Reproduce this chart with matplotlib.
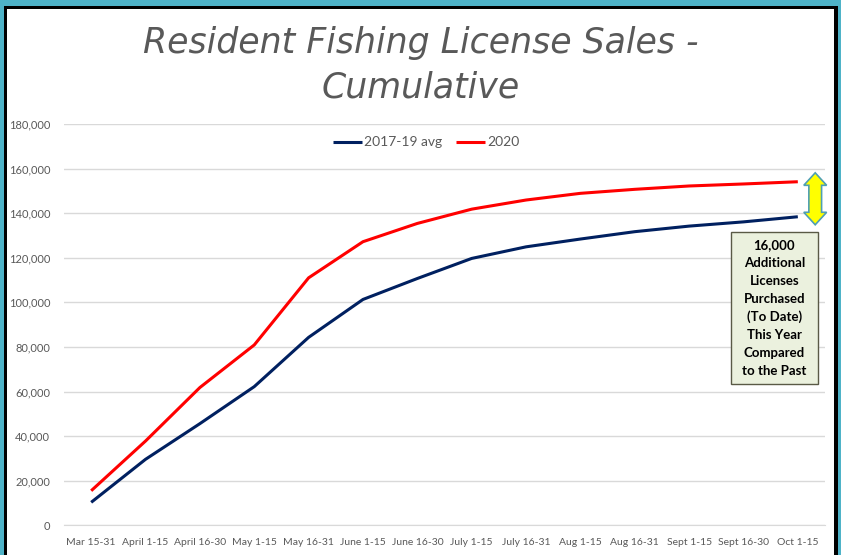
import numpy as np
import matplotlib
matplotlib.use('Agg')
from matplotlib import pyplot as plt
from matplotlib.patches import Polygon, Rectangle

## data
periods = ['Mar 15-31', 'April 1-15', 'April 16-30', 'May 1-15', 'May 16-31',
           'June 1-15', 'June 16-30', 'July 1-15', 'July 16-31', 'Aug 1-15',
           'Aug 16-31', 'Sept 1-15', 'Sept 16-30', 'Oct 1-15']
avg_2017_19 = [10300, 29600, 45600, 62200, 84300, 101300, 110700, 119700,
               124900, 128400, 131700, 134200, 136100, 138400]
sales_2020 = [15500, 37800, 61800, 80900, 111000, 127200, 135400, 141800,
              145900, 148900, 150700, 152200, 153100, 154100]
yticks = np.arange(0, 180001, 20000)
note = '16,000\nAdditional\nLicenses\nPurchased\n(To Date)\nThis Year\nCompared\nto the Past'

W, H = 841, 555
fig = plt.figure(figsize=(W/100, H/100), dpi=100)
fig.patch.set_facecolor('white')

## teal outer border + black inner frame
teal = '#4EB3C8'
fig.patches.append(Rectangle((0, 1 - 6/H), 1, 6/H, transform=fig.transFigure, facecolor=teal, lw=0))
fig.patches.append(Rectangle((0, 0), 4/W, 1, transform=fig.transFigure, facecolor=teal, lw=0))
fig.patches.append(Rectangle((1 - 3/W, 0), 3/W, 1, transform=fig.transFigure, facecolor=teal, lw=0))
fig.patches.append(Rectangle((4/W, 0), 3/W, 1 - 6/H, transform=fig.transFigure, facecolor='black', lw=0))
fig.patches.append(Rectangle((4/W, 1 - 9/H), 1 - 7/W, 3/H, transform=fig.transFigure, facecolor='black', lw=0))
fig.patches.append(Rectangle((1 - 7/W, 0), 4/W, 1 - 6/H, transform=fig.transFigure, facecolor='black', lw=0))

ax = fig.add_axes([64/W, 1 - 525.3/H, (825 - 64)/W, (525.3 - 124)/H])
x = np.arange(len(periods))
ax.plot(x, avg_2017_19, color='#002060', lw=2.2, label='2017-19 avg', solid_capstyle='butt', zorder=3)
ax.plot(x, sales_2020, color='#FF0000', lw=2.2, label='2020', solid_capstyle='butt', zorder=3)

ax.set_xlim(-0.5, len(periods) - 0.5)
ax.set_ylim(0, 180000)
ax.set_yticks(yticks)
ax.set_yticklabels([f'{v:,}' for v in yticks])
ax.set_xticks(x)
ax.set_xticklabels(periods)
ax.tick_params(axis='both', length=0, colors='#595959')
ax.tick_params(axis='y', pad=10, labelsize=8)
ax.tick_params(axis='x', pad=9, labelsize=7.5)
for lab in ax.get_xticklabels() + ax.get_yticklabels():
    lab.set_fontfamily('Lato')
ax.grid(axis='y', color='#D9D9D9', lw=1)
ax.set_axisbelow(True)
for s in ['top', 'right', 'left']:
    ax.spines[s].set_visible(False)
ax.spines['bottom'].set_color('#D9D9D9')

## legend
leg = ax.legend(loc='upper center', bbox_to_anchor=(0.476, 1.0), ncol=2, frameon=False,
                handlelength=2.1, handletextpad=0.15, columnspacing=1.0,
                prop={'family': 'Lato', 'size': 10})
for t in leg.get_texts():
    t.set_color('#595959')

## title
fig.text(0.5, 1 - 43/H, 'Resident Fishing License Sales -', ha='center', va='center',
         fontsize=25, style='italic', color='#595959', family='DejaVu Sans')
fig.text(0.5, 1 - 88/H, 'Cumulative', ha='center', va='center',
         fontsize=25, style='italic', color='#595959', family='DejaVu Sans')

## yellow double arrow between the end points
xc = x[-1] + 0.32
hw, sw = 0.21, 0.117
top = sales_2020[-1] + 4000
bot = avg_2017_19[-1] - 3600
hl = 5600
pts = [(xc, top), (xc + hw, top - hl), (xc + sw, top - hl), (xc + sw, bot + hl),
       (xc + hw, bot + hl), (xc, bot), (xc - hw, bot + hl), (xc - sw, bot + hl),
       (xc - sw, top - hl), (xc - hw, top - hl)]
ax.add_patch(Polygon(pts, closed=True, facecolor='#FFFF00', edgecolor='#4E9FB4',
                     lw=1.2, clip_on=False, zorder=4))

## note box
bx0, bx1 = 11.77, 13.37
by0, by1 = 63400, 131500
ax.add_patch(Rectangle((bx0, by0), bx1 - bx0, by1 - by0, facecolor='#EBF1DE',
                       edgecolor='#5A5A46', lw=1, clip_on=False, zorder=5))
ax.text((bx0 + bx1) / 2, (by0 + by1) / 2, note, ha='center', va='center', fontsize=9.5,
        fontweight='bold', family='Lato', color='black', linespacing=1.58, zorder=6)

fig.savefig('out.png', dpi=100)
